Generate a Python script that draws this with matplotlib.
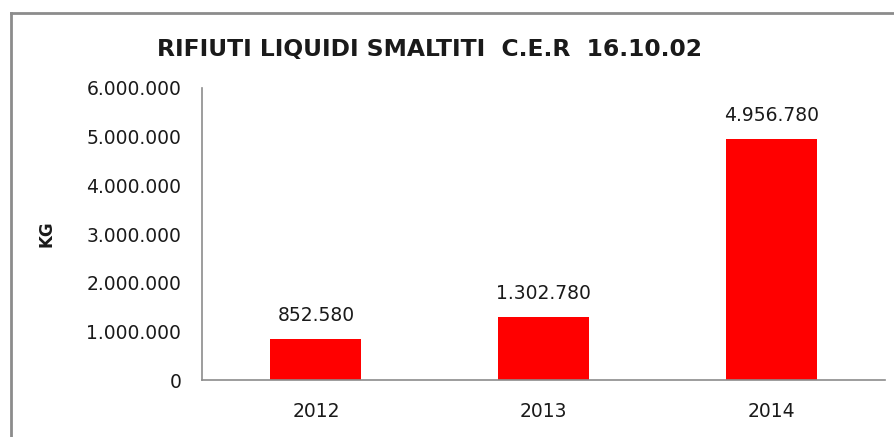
import matplotlib
matplotlib.use('Agg')
import matplotlib.pyplot as plt
from matplotlib.lines import Line2D
from matplotlib.ticker import FuncFormatter

# dati
years = ['2012', '2013', '2014']
kg = [852580, 1302780, 4956780]
y_ticks = [0, 1000000, 2000000, 3000000, 4000000, 5000000, 6000000]

plt.rcParams['font.family'] = ['DejaVu Sans']


def dotted(v):
    # formato italiano con il punto per le migliaia
    return '{:,.0f}'.format(v).replace(',', '.')


fig = plt.figure(figsize=(8.94, 4.37), dpi=100)
ax = fig.add_axes([0.226, 0.130, 0.764, 0.669])

bars = ax.bar(range(len(years)), kg, width=0.4, color='#ff0000')
ax.set_xlim(-0.5, len(years) - 0.5)
ax.set_ylim(0, 6000000)
ax.set_yticks(y_ticks)
ax.yaxis.set_major_formatter(FuncFormatter(lambda v, p: dotted(v)))
ax.set_xticks(range(len(years)))
ax.set_xticklabels(years)
ax.tick_params(length=0, labelsize=13.5, colors='#1a1a1a')
ax.tick_params(axis='y', pad=15)
ax.tick_params(axis='x', pad=16)

for s in ['top', 'right']:
    ax.spines[s].set_visible(False)
for s in ['left', 'bottom']:
    ax.spines[s].set_color('#8c8c8c')
    ax.spines[s].set_linewidth(1.2)

for b, v in zip(bars, kg):
    ax.annotate(dotted(v), (b.get_x() + b.get_width() / 2, v),
                xytext=(0, 10), textcoords='offset points',
                ha='center', va='bottom', fontsize=13.5, color='#1a1a1a')

ax.set_ylabel('KG', fontsize=12, fontweight='bold', color='#1a1a1a')
ax.yaxis.set_label_coords(-0.214, 0.5)

fig.text(0.480, 0.886, 'RIFIUTI LIQUIDI SMALTITI  C.E.R  16.10.02',
         ha='center', va='center', fontsize=16.8, fontweight='bold', color='#1a1a1a')

# cornice grigia dell'area grafico
fig.add_artist(Line2D([0.0123, 0.0123], [0.0, 0.971], transform=fig.transFigure,
                      color='#8c8c8c', linewidth=2))
fig.add_artist(Line2D([0.0123, 1.0], [0.971, 0.971], transform=fig.transFigure,
                      color='#8c8c8c', linewidth=2))

fig.savefig('out.png', dpi=100)
